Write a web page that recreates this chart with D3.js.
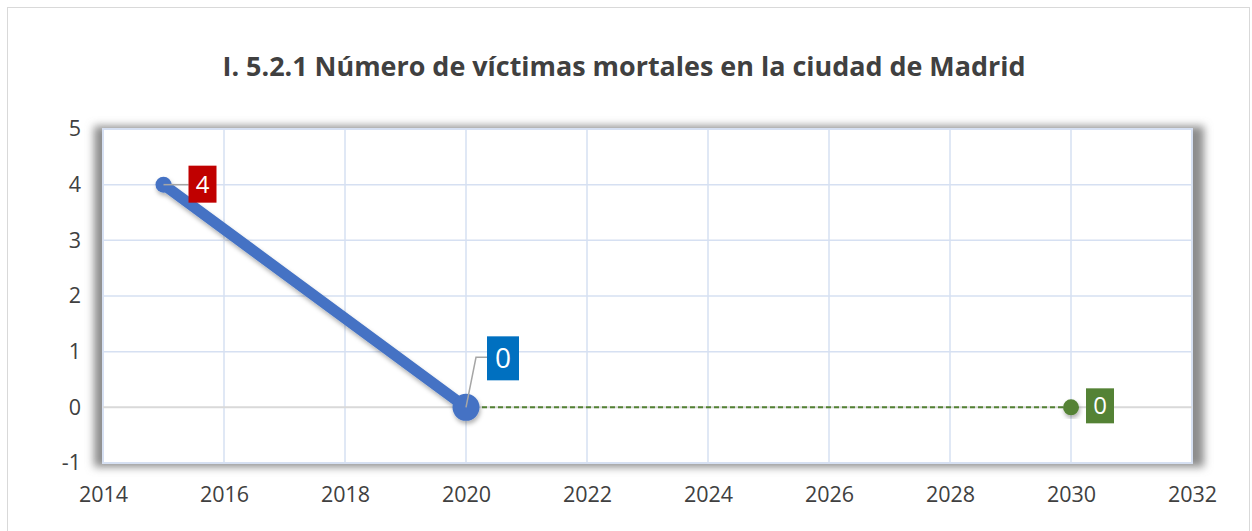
<!DOCTYPE html>
<html>
<head>
<meta charset="utf-8">
<script src="https://cdn.jsdelivr.net/npm/d3@7"></script>
<style>
  body { margin: 0; background: #fff; }
  svg { display: block; }
  text { font-family: "Open Sans", "Noto Sans", sans-serif; }
</style>
</head>
<body>
<div id="chart"></div>
<script>
// data
var titleText = "I. 5.2.1 Número de víctimas mortales en la ciudad de Madrid";
var realYears = [2015, 2020];
var realValues = [4, 0];
var targetYears = [2020, 2030];
var targetValues = [0, 0];
var xTicks = [2014, 2016, 2018, 2020, 2022, 2024, 2026, 2028, 2030, 2032];
var yTicks = [-1, 0, 1, 2, 3, 4, 5];

const width = 1252, height = 531;
const margin = { left: 103, right: 60, top: 129, bottom: 68 };

const svg = d3.select('#chart').append('svg')
    .attr('width', width)
    .attr('height', height);

var defs = svg.append('defs');
var f = defs.append('filter').attr('id', 'plotShadow')
    .attr('x', '-5%').attr('y', '-10%').attr('width', '110%').attr('height', '120%');
f.append('feGaussianBlur').attr('stdDeviation', 4);

var ls = defs.append('filter').attr('id', 'lineShadow')
    .attr('x', '-20%').attr('y', '-20%').attr('width', '140%').attr('height', '140%');
ls.append('feDropShadow').attr('dx', 1).attr('dy', 3).attr('stdDeviation', 2)
    .attr('flood-color', '#000').attr('flood-opacity', 0.3);

// outer chart border
svg.append('rect')
    .attr('x', 7.5).attr('y', 7.5)
    .attr('width', 1242).attr('height', 540)
    .attr('fill', '#fff')
    .attr('stroke', '#d9d9d9');

const x = d3.scaleLinear().domain([2014, 2032]).range([margin.left, width - margin.right]);
const y = d3.scaleLinear().domain([-1, 5]).range([height - margin.bottom, margin.top]);

// title
svg.append('text')
    .attr('x', 624).attr('y', 76)
    .attr('text-anchor', 'middle')
    .attr('font-size', 27)
    .attr('font-weight', 'bold')
    .attr('fill', '#404040')
    .attr('textLength', 803)
    .attr('lengthAdjust', 'spacingAndGlyphs')
    .text(titleText);

// plot area shadow
var x0 = x(2014), x1 = x(2032), yT = y(5), yB = y(-1);
svg.append('rect')
    .attr('x', x0 - 9).attr('y', yT - 3)
    .attr('width', x1 - x0 + 21).attr('height', yB - yT + 7)
    .attr('fill', '#8c8c8c')
    .attr('filter', 'url(#plotShadow)');

svg.append('rect')
    .attr('x', x0).attr('y', yT)
    .attr('width', x1 - x0).attr('height', yB - yT)
    .attr('fill', '#fff')
    .attr('stroke', '#d6e0f2')
    .attr('stroke-width', 2);

// gridlines
var grid = svg.append('g');
grid.selectAll('line.v').data(xTicks).enter().append('line')
    .attr('x1', d => x(d)).attr('x2', d => x(d))
    .attr('y1', yT).attr('y2', yB)
    .attr('stroke', '#d6e0f2').attr('stroke-width', 1.5);
grid.selectAll('line.h').data(yTicks).enter().append('line')
    .attr('x1', x0).attr('x2', x1)
    .attr('y1', d => y(d)).attr('y2', d => y(d))
    .attr('stroke', d => d === 0 ? '#d9d9d9' : '#d6e0f2')
    .attr('stroke-width', d => d === 0 ? 2 : 1.5);

// axes labels
var xAxis = svg.append('g')
    .attr('transform', `translate(0,${yB + 32})`)
    .call(d3.axisBottom(x).tickValues(xTicks).tickFormat(d => String(d)).tickSize(0).tickPadding(0));
xAxis.select('.domain').remove();
xAxis.selectAll('text').attr('font-size', 21.5).attr('fill', '#404040')
    .attr('font-family', '"Open Sans", sans-serif').attr('dy', '0.32em');

var yAxis = svg.append('g')
    .attr('transform', `translate(${x0 - 22},0)`)
    .call(d3.axisLeft(y).tickValues(yTicks).tickFormat(d => String(d)).tickSize(0).tickPadding(0));
yAxis.select('.domain').remove();
yAxis.selectAll('text').attr('font-size', 21.5).attr('fill', '#404040')
    .attr('font-family', '"Open Sans", sans-serif');

const line = d3.line().x(d => x(d[0])).y(d => y(d[1]));

// target series (green dashed)
var tgt = d3.zip(targetYears, targetValues);
svg.append('path')
    .datum(tgt)
    .attr('d', line)
    .attr('fill', 'none')
    .attr('stroke', '#548235')
    .attr('stroke-width', 2)
    .attr('stroke-dasharray', '5,3');

// real series (blue)
var real = d3.zip(realYears, realValues);
var realG = svg.append('g').attr('filter', 'url(#lineShadow)');
realG.append('path')
    .datum(real)
    .attr('d', line)
    .attr('fill', 'none')
    .attr('stroke', '#4472c4')
    .attr('stroke-width', 11)
    .attr('stroke-linecap', 'round');
var realR = [8, 13.5];
realG.selectAll('circle').data(real).enter().append('circle')
    .attr('cx', d => x(d[0])).attr('cy', d => y(d[1]))
    .attr('r', (d, i) => realR[i])
    .attr('fill', '#4472c4');

svg.append('circle')
    .datum(tgt[1])
    .attr('cx', d => x(d[0])).attr('cy', d => y(d[1]))
    .attr('r', 8)
    .attr('fill', '#548235')
    .attr('filter', 'url(#lineShadow)');

// data labels
function label(pt, bx, by, bw, bh, fill, fs, leader) {
    var px = x(pt[0]), py = y(pt[1]);
    if (leader) {
        svg.append('path')
            .attr('d', leader(px, py, bx, by, bh))
            .attr('fill', 'none')
            .attr('stroke', '#a6a6a6')
            .attr('stroke-width', 1.5);
    }
    svg.append('rect')
        .attr('x', bx).attr('y', by).attr('width', bw).attr('height', bh)
        .attr('fill', fill);
    svg.append('text')
        .attr('x', bx + bw / 2).attr('y', by + bh / 2)
        .attr('dy', '0.36em')
        .attr('text-anchor', 'middle')
        .attr('font-size', fs)
        .attr('fill', '#fff')
        .text(pt[1]);
}

var p4 = real[0];
label(p4, x(p4[0]) + 25, y(p4[1]) - 19, 28, 37, '#c00000', 24,
    (px, py, bx) => `M${px},${py}H${bx}`);

var p0 = real[1];
label(p0, x(p0[0]) + 21, y(p0[1]) - 71, 32, 44, '#0070c0', 28,
    (px, py, bx, by, bh) => `M${px},${py}L${px + 10},${by + 21}H${bx}`);

var pg = tgt[1];
label(pg, x(pg[0]) + 15, y(pg[1]) - 19, 28, 35, '#548235', 24, null);
</script>
</body>
</html>
